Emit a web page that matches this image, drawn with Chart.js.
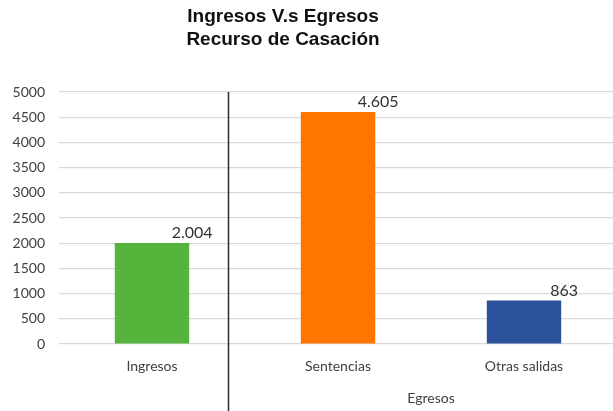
<!DOCTYPE html>
<html>
<head>
<meta charset="utf-8">
<script src="https://cdn.jsdelivr.net/npm/chart.js@4"></script>
<style>
html,body{margin:0;padding:0;overflow:hidden;background:#fff;width:613px;height:411px;}
canvas{display:block;}
</style>
</head>
<body>
<canvas id="c" width="620" height="411"></canvas>
<script>
const categories = ['Ingresos', 'Sentencias', 'Otras salidas'];
const values = [2004, 4605, 863];
const barColors = ['#56B33C', '#FF7500', '#2C529C'];
const yTicks = {min: 0, max: 5000, step: 500};
const titleLines = ['Ingresos V.s Egresos', 'Recurso de Casación'];
const groupLabel = 'Egresos';

function fmt(v){ return String(v).replace(/\B(?=(\d{3})+(?!\d))/g, '.'); }

const extras = {
  id: 'extras',
  afterDraw(chart){
    const ctx = chart.ctx;
    const x = chart.scales.x;
    const area = chart.chartArea;
    ctx.save();
    // title
    ctx.fillStyle = '#111';
    ctx.font = 'bold 19px "Liberation Sans", Arial, sans-serif';
    ctx.textAlign = 'center';
    ctx.textBaseline = 'alphabetic';
    ctx.fillText(titleLines[0], 283, 22);
    ctx.fillText(titleLines[1], 283, 45);
    // separator line
    const p0 = x.getPixelForValue(0), p1 = x.getPixelForValue(1), p2 = x.getPixelForValue(2);
    const sx = Math.round(p0 + 0.41 * (p1 - p0)) + 0.5;
    ctx.strokeStyle = '#2b2b2b';
    ctx.lineWidth = 1.5;
    ctx.beginPath();
    ctx.moveTo(sx, area.top);
    ctx.lineTo(sx, chart.height);
    ctx.stroke();
    // group label
    ctx.fillStyle = '#404040';
    ctx.font = '14px Lato, sans-serif';
    ctx.textBaseline = 'middle';
    ctx.fillText(groupLabel, (p1 + p2) / 2, 398);
    // data labels
    const meta = chart.getDatasetMeta(0);
    ctx.font = '16px Lato, sans-serif';
    ctx.fillStyle = '#333';
    ctx.textBaseline = 'bottom';
    meta.data.forEach((bar, i) => {
      ctx.fillText(fmt(values[i]), bar.x + bar.width / 2 + 3, bar.y - 2);
    });
    ctx.restore();
  }
};

new Chart(document.getElementById('c'), {
  type: 'bar',
  data: {
    labels: categories,
    datasets: [{
      data: values,
      backgroundColor: barColors,
      borderWidth: 0,
      categoryPercentage: 1,
      barPercentage: 0.4
    }]
  },
  options: {
    responsive: false,
    animation: false,
    layout: {padding: {top: 92, left: 8, right: 3, bottom: 0}},
    plugins: {legend: {display: false}, tooltip: {enabled: false}, title: {display: false}},
    scales: {
      x: {
        grid: {display: false},
        border: {display: false},
        ticks: {color: '#404040', font: {family: 'Lato', size: 14}, padding: 6},
        afterFit(s){ s.height = 67; }
      },
      y: {
        min: yTicks.min, max: yTicks.max,
        grid: {color: '#d9d9d9', lineWidth: 1.2, drawTicks: false},
        border: {display: false},
        ticks: {stepSize: yTicks.step, color: '#404040', font: {family: 'Lato', size: 14}, padding: 14,
          callback: v => String(v)},
        afterFit(s){ s.width = 51; }
      }
    }
  },
  plugins: [extras]
});
</script>
</body>
</html>
